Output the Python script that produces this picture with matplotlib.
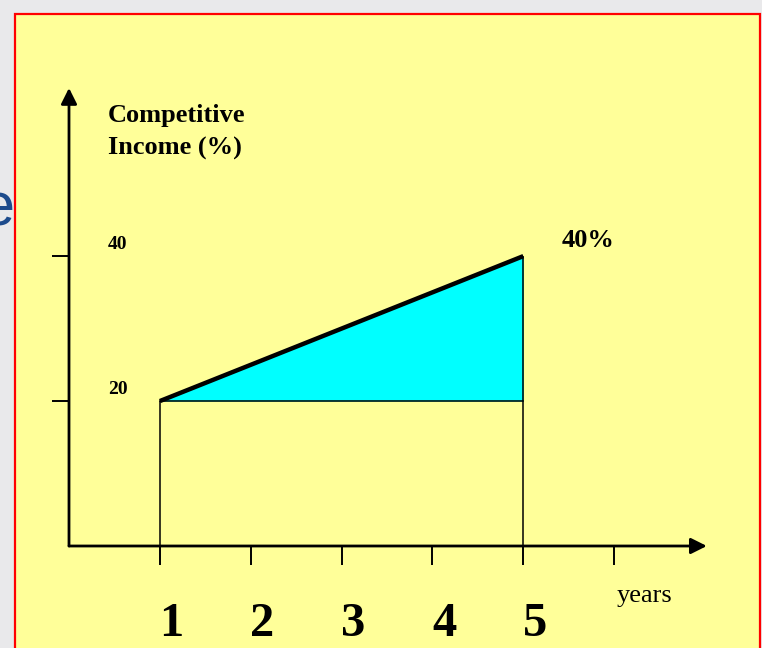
"""Competitive income growth sketch: 20% in year 1 rising to 40% by year 5."""
import matplotlib
matplotlib.use("Agg")
import matplotlib.pyplot as plt
from matplotlib.patches import Rectangle

# data
years = [1, 2, 3, 4, 5, 6]
year_labels = ["1", "2", "3", "4", "5", ""]
income_x = [1, 5]
income_y = [20, 40]
base_level = 20
yticks = [20, 40]
ytick_labels = ["20", "40"]
end_label = "40%"

YELLOW = "#FFFF99"
CYAN = "#00FFFF"
SERIF = "Liberation Serif"

W, H = 762, 648
fig = plt.figure(figsize=(W / 100, H / 100), dpi=100, facecolor="#e9e9eb")

# slide backdrop: stray letter behind the yellow panel, red-framed panel
fig.text(14 / W, 1 - 210 / H, "e", fontsize=44, color="#1d4b8c", family="Liberation Sans",
         ha="right", va="center", zorder=-2)
fig.patches.append(Rectangle((15 / W, -0.02), (760 - 15) / W, (648 - 14) / H + 0.02,
                             transform=fig.transFigure, facecolor=YELLOW, edgecolor="red",
                             lw=1.6, zorder=-1))

ax = fig.add_axes([69 / W, (H - 546) / H, (705 - 69) / W, (546 - 88) / H])
ax.set_facecolor("none")
ax.set_xlim(0, 7)
ax.set_ylim(0, 63.2)
for s in ax.spines.values():
    s.set_visible(False)

# axes with arrowheads
ax.annotate("", xy=(7.02, 0), xytext=(0, 0), annotation_clip=False,
            arrowprops=dict(arrowstyle="-|>", lw=2, color="black", mutation_scale=24,
                            shrinkA=0, shrinkB=0))
ax.annotate("", xy=(0, 63.2), xytext=(0, 0), annotation_clip=False,
            arrowprops=dict(arrowstyle="-|>", lw=2, color="black", mutation_scale=24,
                            shrinkA=0, shrinkB=0))

ax.set_xticks(years)
ax.set_xticklabels([])
ax.set_yticks(yticks)
ax.set_yticklabels([])
ax.tick_params(axis="x", direction="out", length=14, width=1.4, color="black")
ax.tick_params(axis="y", direction="out", length=12, width=1.4, color="black")

# shaded gain area
ax.fill_between(income_x, base_level, income_y, color=CYAN, lw=0, zorder=2)
ax.plot(income_x, [base_level, base_level], color="black", lw=1.1, zorder=3)
ax.vlines(income_x, 0, income_y, color="black", lw=1.1, zorder=3)
ax.plot(income_x, income_y, color="black", lw=3.2, solid_capstyle="butt", zorder=4)

# text
for x, lab in zip(years, year_labels):
    ax.text(x + 0.13, -10.8, lab, fontsize=35, fontweight="bold", family=SERIF,
            ha="center", va="center", clip_on=False)
for y, lab in zip(yticks, ytick_labels):
    ax.text(0.43, y + 1.6, lab, fontsize=14, fontweight="bold", family=SERIF,
            ha="left", va="center")
ax.text(0.43, 59.4, "Competitive", fontsize=19, fontweight="bold", family=SERIF,
        ha="left", va="center")
ax.text(0.43, 54.9, "Income (%)", fontsize=19, fontweight="bold", family=SERIF,
        ha="left", va="center")
ax.text(5.42, income_y[-1] + 2.1, end_label, fontsize=19, fontweight="bold", family=SERIF,
        ha="left", va="center")
ax.text(6.33, -6.9, "years", fontsize=19, family=SERIF, ha="center", va="center",
        clip_on=False)

fig.savefig("out.png", dpi=100, facecolor=fig.get_facecolor())
